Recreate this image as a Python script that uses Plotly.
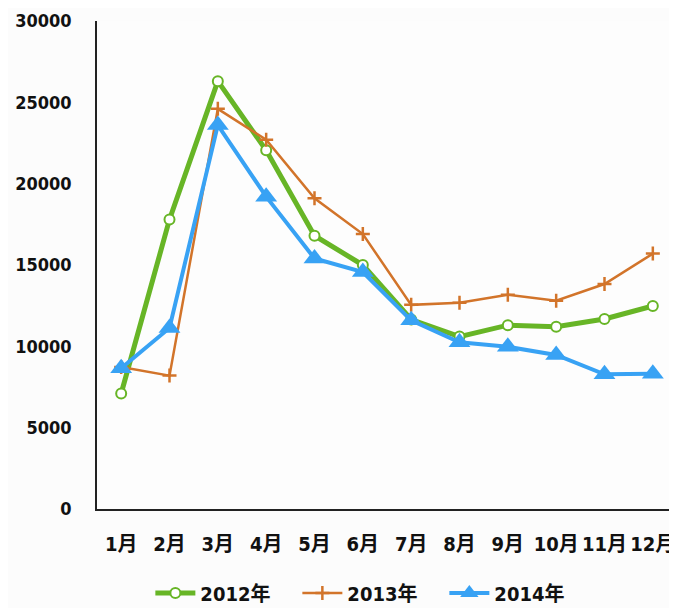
import plotly.graph_objects as go

months = ["1月", "2月", "3月", "4月", "5月", "6月", "7月", "8月", "9月", "10月", "11月", "12月"]
y2012 = [7100, 17800, 26300, 22050, 16800, 15000, 11650, 10600, 11300, 11200, 11680, 12480]
y2013 = [8730, 8200, 24600, 22700, 19100, 16900, 12550, 12680, 13170, 12800, 13830, 15700]
y2014 = [8650, 11130, 23600, 19200, 15400, 14570, 11600, 10250, 9970, 9470, 8280, 8320]
yticks = [0, 5000, 10000, 15000, 20000, 25000, 30000]

FONT = "DejaVu Sans Condensed, Noto Sans CJK SC, sans-serif"

fig = go.Figure()
fig.add_trace(go.Scatter(
    x=months, y=y2012, name="2012年", mode="lines+markers",
    line=dict(color="#67b526", width=5),
    marker=dict(symbol="circle", size=10, color="white", line=dict(color="#67b526", width=2)),
))
fig.add_trace(go.Scatter(
    x=months, y=y2013, name="2013年", mode="lines+markers",
    line=dict(color="#d2742a", width=2.5),
    marker=dict(symbol="cross-thin", size=10, color="#d2742a", line=dict(color="#d2742a", width=2.5)),
))
fig.add_trace(go.Scatter(
    x=months, y=y2014, name="2014年", mode="lines+markers",
    line=dict(color="#38a2f4", width=4),
    marker=dict(symbol="triangle-up", size=19, color="#38a2f4"),
))

fig.update_layout(
    width=669, height=600,
    margin=dict(l=89, r=0, t=13, b=99, autoexpand=False),
    paper_bgcolor="#fcfcfc", plot_bgcolor="#fdfdfd",
    font=dict(family=FONT, size=17, color="#111111", weight="bold"),
    showlegend=True,
    legend=dict(orientation="h", x=0.092, xanchor="left", y=-0.172, yanchor="middle",
                font=dict(family=FONT, size=20, color="#111111", weight="bold"),
                entrywidth=92, entrywidthmode="pixels", itemwidth=40,
                bgcolor="rgba(0,0,0,0)"),
    xaxis=dict(type="category", showgrid=False, showline=True, linecolor="#222222", linewidth=1.5,
               ticks="", tickfont=dict(family=FONT, size=20, color="#111111", weight="bold"),
               range=[-0.5, 11.5], ticklabelstandoff=16, automargin=False),
    yaxis=dict(range=[0, 30000], tickvals=yticks, ticktext=[str(v) for v in yticks],
               showgrid=False, showline=True, linecolor="#222222", linewidth=1.5,
               ticks="", tickfont=dict(family=FONT, size=18, color="#111111", weight="bold"),
               ticklabelstandoff=20, zeroline=False, automargin=False),
)

fig.write_html("out.html")
